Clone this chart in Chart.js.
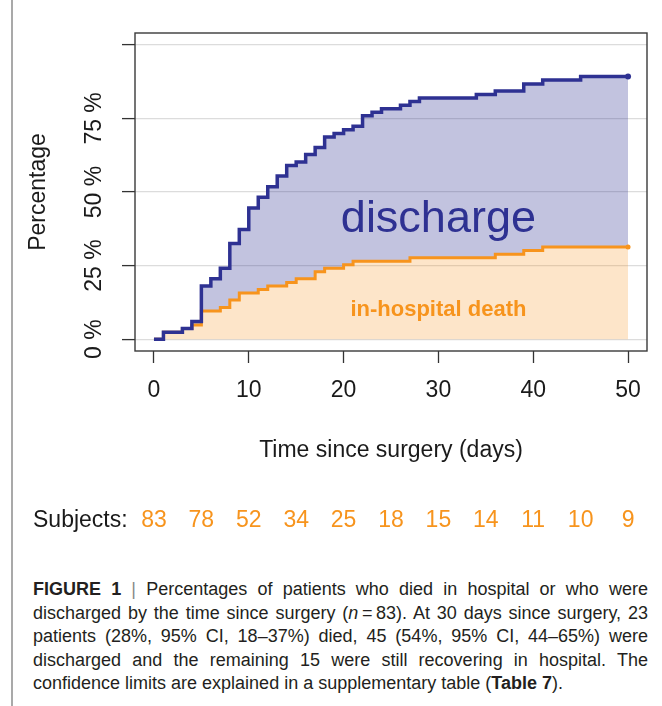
<!DOCTYPE html>
<html>
<head>
<meta charset="utf-8">
<script src="https://cdn.jsdelivr.net/npm/chart.js@4.4.1/dist/chart.umd.min.js"></script>
<style>
  body { margin: 0; background: #fff; width: 662px; height: 706px; position: relative; overflow: hidden;
         font-family: "Liberation Sans", Arial, sans-serif; }
  #edge { position: absolute; left: 11px; top: 0; width: 2px; height: 706px; background: #a9a9a9; }
  #chartBox { position: absolute; left: 0; top: 0; }
  #caption { position: absolute; left: 33px; top: 578px; width: 615px; font-size: 18px; line-height: 23.5px; color: #231f20; }
  #caption div { text-align: justify; text-align-last: justify; white-space: nowrap; }
  #caption div.last { text-align-last: left; }
  #caption .bar { color: #888; }
</style>
</head>
<body>
<div id="edge"></div>
<div id="chartBox"><canvas id="chart" width="662" height="560"></canvas></div>
<div id="caption">
  <div><b>FIGURE 1</b> <span class="bar">|</span> Percentages of patients who died in hospital or who were</div>
  <div>discharged by the time since surgery (<i>n</i>&#8201;=&#8201;83). At 30 days since surgery, 23</div>
  <div>patients (28%, 95% CI, 18–37%) died, 45 (54%, 95% CI, 44–65%) were</div>
  <div>discharged and the remaining 15 were still recovering in hospital. The</div>
  <div class="last">confidence limits are explained in a supplementary table (<b>Table 7</b>).</div>
</div>
<script>
// datos (dias desde la cirugia, % acumulado)
const days = [0, 1, 3, 4, 5, 6, 7, 8, 9, 10, 11, 12, 13, 14, 15, 16, 17, 18, 19, 20, 21, 22, 23, 24, 26, 27, 28, 34, 36, 39, 41, 45, 50];
const totalPct = [0, 2.4, 3.6, 6.0, 18.1, 20.5, 24.1, 32.5, 37.3, 44.6, 48.2, 51.8, 55.4, 59.0, 60.2, 62.7, 65.1, 68.7, 69.9, 71.1, 72.3, 75.9, 77.1, 78.3, 79.5, 80.7, 81.9, 83.1, 84.3, 86.7, 88.0, 89.2, 89.2];
const deathPct = [0, 2.4, 3.6, 4.8, 9.6, 9.6, 10.8, 13.3, 15.7, 15.7, 16.9, 18.1, 18.1, 19.3, 20.5, 20.5, 22.9, 24.1, 24.1, 25.3, 26.5, 26.5, 26.5, 26.5, 26.5, 27.7, 27.7, 27.7, 28.9, 30.1, 31.3, 31.3, 31.3];

const xTicks = [0, 10, 20, 30, 40, 50];
const yTicks = [0, 25, 50, 75, 100];
const yTickLabels = ["0 %", "25 %", "50 %", "75 %", ""];

// pacientes en riesgo
const subjectDays = [0, 5, 10, 15, 20, 25, 30, 35, 40, 45, 50];
const subjects = [83, 78, 52, 34, 25, 18, 15, 14, 11, 10, 9];

const FONT = "'Liberation Sans', Arial, sans-serif";
const NAVY = "#2e3192";
const ORANGE = "#f7941d";
const lastIdx = days.length - 1;

// textos, caja y fila de sujetos
const extras = {
    id: "extras",
    afterDatasetsDraw(chart) {
        const ctx = chart.ctx;
        const x = chart.scales.x, y = chart.scales.y;
        ctx.save();
        ctx.textAlign = "center";
        ctx.textBaseline = "alphabetic";
        ctx.fillStyle = NAVY;
        ctx.font = "45px " + FONT;
        ctx.fillText("discharge", x.getPixelForValue(30), y.getPixelForValue(36.4));
        ctx.fillStyle = ORANGE;
        ctx.font = "bold 22px " + FONT;
        ctx.fillText("in-hospital death", x.getPixelForValue(30), y.getPixelForValue(8));
        ctx.restore();
    },
    afterDraw(chart) {
        const ctx = chart.ctx;
        const a = chart.chartArea;
        const x = chart.scales.x, y = chart.scales.y;
        ctx.save();
        ctx.strokeStyle = "#3a3a3a";
        ctx.lineWidth = 1.4;
        ctx.strokeRect(a.left, a.top, a.right - a.left, a.bottom - a.top);

        // etiquetas del eje y, giradas
        ctx.fillStyle = "#1a1a1a";
        ctx.font = "23px " + FONT;
        ctx.textAlign = "center";
        ctx.textBaseline = "alphabetic";
        yTicks.forEach((v, i) => {
            ctx.save();
            ctx.translate(101, y.getPixelForValue(v));
            ctx.rotate(-Math.PI / 2);
            ctx.fillText(yTickLabels[i], 0, 0);
            ctx.restore();
        });

        // fila de sujetos
        ctx.textBaseline = "middle";
        ctx.textAlign = "left";
        ctx.fillStyle = "#1a1a1a";
        ctx.fillText("Subjects:", 33, 521);
        ctx.textAlign = "center";
        ctx.fillStyle = ORANGE;
        subjectDays.forEach((d, i) => {
            ctx.fillText(String(subjects[i]), x.getPixelForValue(d), 521);
        });
        ctx.restore();
    }
};

new Chart(document.getElementById("chart"), {
    type: "line",
    data: {
        datasets: [
            {
                label: "discharge",
                data: days.map((d, i) => ({ x: d, y: totalPct[i] })),
                borderColor: NAVY,
                backgroundColor: "rgba(46, 49, 146, 0.29)",
                borderWidth: 3.5,
                stepped: true,
                fill: 1,
                order: 0,
                pointRadius: c => c.dataIndex === lastIdx ? 3 : 0,
                pointBackgroundColor: NAVY,
                pointBorderWidth: 0
            },
            {
                label: "in-hospital death",
                data: days.map((d, i) => ({ x: d, y: deathPct[i] })),
                borderColor: ORANGE,
                backgroundColor: "rgba(247, 148, 29, 0.24)",
                borderWidth: 3,
                stepped: true,
                fill: "origin",
                order: 1,
                pointRadius: c => c.dataIndex === lastIdx ? 2.5 : 0,
                pointBackgroundColor: ORANGE,
                pointBorderWidth: 0
            }
        ]
    },
    options: {
        responsive: false,
        animation: false,
        layout: { padding: { left: 0, right: 15, top: 33, bottom: 80 } },
        plugins: {
            legend: { display: false },
            tooltip: { enabled: false },
            filler: { drawTime: "beforeDatasetsDraw" }
        },
        scales: {
            x: {
                type: "linear",
                min: -2,
                max: 52,
                afterBuildTicks: s => { s.ticks = xTicks.map(v => ({ value: v })); },
                afterFit: s => { s.height = 129; },
                border: { display: false },
                grid: { drawOnChartArea: false, drawTicks: true, tickLength: 12, tickColor: "#333", tickWidth: 1.3 },
                ticks: { font: { size: 23, family: FONT }, color: "#1a1a1a", padding: 14, maxRotation: 0, autoSkip: false },
                title: { display: true, text: "Time since surgery (days)", font: { size: 23, family: FONT }, color: "#1a1a1a", padding: { top: 0, bottom: 16 } }
            },
            y: {
                type: "linear",
                min: -4,
                max: 104,
                afterBuildTicks: s => { s.ticks = yTicks.map(v => ({ value: v })); },
                afterFit: s => { s.width = 135; },
                border: { display: false },
                grid: { color: "#dcdcdc", lineWidth: 1.2, drawTicks: true, tickLength: 13, tickColor: "#333", tickWidth: 1.3 },
                ticks: { display: false },
                title: { display: true, text: "Percentage", font: { size: 23, family: FONT }, color: "#1a1a1a", padding: { top: 25, bottom: 0 } }
            }
        }
    },
    plugins: [extras]
});
</script>
</body>
</html>
